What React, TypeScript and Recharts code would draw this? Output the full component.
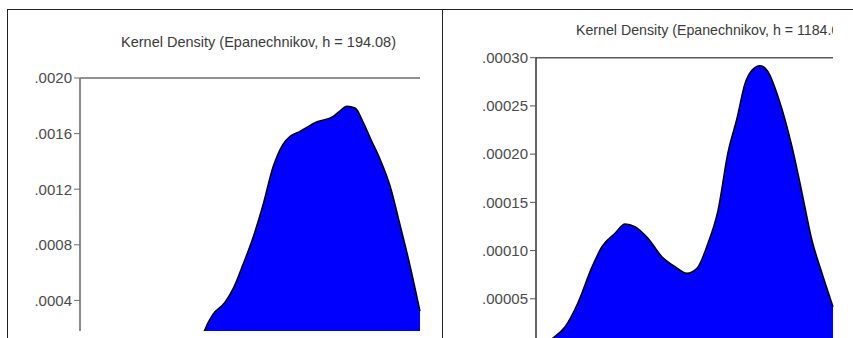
import { AreaChart, Area, XAxis, YAxis } from "recharts"

// left panel: Kernel Density (Epanechnikov, h = 194.08)
const leftX = [27.9, 32.4, 36.5, 37.6, 39.1, 42.6, 45.0, 47.9, 50.9, 53.8, 56.8, 59.7, 61.8, 64.7, 69.7, 74.4, 76.5, 78.5, 80.9, 83.2, 85.6, 88.2, 91.2, 94.1, 97.1, 100]
const leftDensity = [0, 0.00006, 0.000176, 0.000236, 0.0003, 0.000385, 0.000483, 0.000656, 0.000853, 0.001084, 0.001361, 0.001523, 0.001581, 0.001616, 0.001685, 0.001722, 0.001764, 0.001796, 0.001784, 0.001687, 0.001556, 0.001419, 0.001223, 0.000946, 0.000647, 0.000322]
const leftTicks = [0.0004, 0.0008, 0.0012, 0.0016, 0.002]

// right panel: Kernel Density (Epanechnikov, h = 1184.…)
const rightX = [0, 3.0, 5.7, 9.8, 14.1, 18.9, 22.2, 26.6, 30.0, 33.3, 37.7, 42.4, 46.8, 50.8, 54.2, 57.9, 61.3, 64.6, 67.7, 70.4, 72.7, 75.4, 78.1, 81.5, 86.2, 89.6, 92.9, 96.3, 100]
const rightDensity = [0.000001, 0.000004, 0.0000093, 0.000021, 0.0000456, 0.0000833, 0.000104, 0.000118, 0.0001276, 0.0001248, 0.0001127, 0.0000936, 0.0000833, 0.0000764, 0.0000816, 0.0001075, 0.000142, 0.000201, 0.0002375, 0.0002735, 0.000287, 0.0002917, 0.0002855, 0.0002596, 0.0002077, 0.0001594, 0.000111, 0.0000764, 0.0000418]
const rightTicks = [0.00005, 0.0001, 0.00015, 0.0002, 0.00025, 0.0003]

const leftTitle = "Kernel Density (Epanechnikov, h = 194.08)"
const rightTitle = "Kernel Density (Epanechnikov, h = 1184.08)"

const font = "'Liberation Sans', Arial, sans-serif"
const tickStyle = { fill: "#4a4a4a", fontSize: 15, fontFamily: font }

const leftData = leftX.map((x, i) => ({ x, d: leftDensity[i] }))
const rightData = rightX.map((x, i) => ({ x, d: rightDensity[i] }))

const noLead = (digits: number) => (v: number) => v.toFixed(digits).replace(/^0/, "")

const titleStyle: React.CSSProperties = {
  position: "absolute",
  fontFamily: font,
  fontSize: 14.5,
  lineHeight: "16px",
  color: "#3a3a3a",
  whiteSpace: "nowrap",
}

export default function App() {
  return (
    <div style={{ position: "absolute", left: 0, top: 0, width: 853, height: 338, overflow: "hidden", background: "#fff" }}>
      {/* left chart */}
      <div style={{ position: "absolute", left: 0, top: 0, width: 441, height: 331, overflow: "hidden" }}>
        <AreaChart width={430} height={366} data={leftData} margin={{ top: 77, right: 10, bottom: 10, left: 0 }}>
          <XAxis type="number" dataKey="x" domain={[0, 100]} orientation="top" height={1} tick={false} tickLine={false} axisLine={{ stroke: "#6e6e6e", strokeWidth: 1.5 }} />
          <YAxis type="number" domain={[0, 0.002]} ticks={leftTicks} tickFormatter={noLead(4)} width={80} tick={tickStyle} axisLine={{ stroke: "#8a8a8a", strokeWidth: 2 }} tickLine={{ stroke: "#6e6e6e" }} />
          <Area type="monotone" dataKey="d" stroke="#000" strokeWidth={1.5} fill="#0000ff" fillOpacity={1} isAnimationActive={false} />
        </AreaChart>
      </div>
      <div style={{ ...titleStyle, left: 121, top: 34 }}>{leftTitle}</div>

      {/* right chart */}
      <div style={{ position: "absolute", left: 442, top: 0, width: 411, height: 338, overflow: "hidden" }}>
        <AreaChart width={401} height={357} data={rightData} margin={{ top: 56.7, right: 10, bottom: 10, left: 0 }}>
          <XAxis type="number" dataKey="x" domain={[0, 100]} orientation="top" height={1} tick={false} tickLine={false} axisLine={{ stroke: "#5a5a5a", strokeWidth: 1.5 }} />
          <YAxis type="number" domain={[0, 0.0003]} ticks={rightTicks} tickFormatter={noLead(5)} width={94} tick={tickStyle} axisLine={{ stroke: "#333", strokeWidth: 1.5 }} tickLine={{ stroke: "#555" }} />
          <Area type="monotone" dataKey="d" stroke="#000" strokeWidth={1.5} fill="#0000ff" fillOpacity={1} isAnimationActive={false} />
        </AreaChart>
      </div>
      <div style={{ position: "absolute", left: 576, top: 22, width: 257, height: 18, overflow: "hidden" }}>
        <div style={{ ...titleStyle, left: 0, top: 0, fontSize: 14.2 }}>{rightTitle}</div>
      </div>

      {/* frame */}
      <div style={{ position: "absolute", left: 7, top: 8.5, width: 846, height: 1.5, background: "#222" }} />
      <div style={{ position: "absolute", left: 6.5, top: 9, width: 1.5, height: 329, background: "#222" }} />
      <div style={{ position: "absolute", left: 441.5, top: 9, width: 1.5, height: 329, background: "#222" }} />
    </div>
  )
}
